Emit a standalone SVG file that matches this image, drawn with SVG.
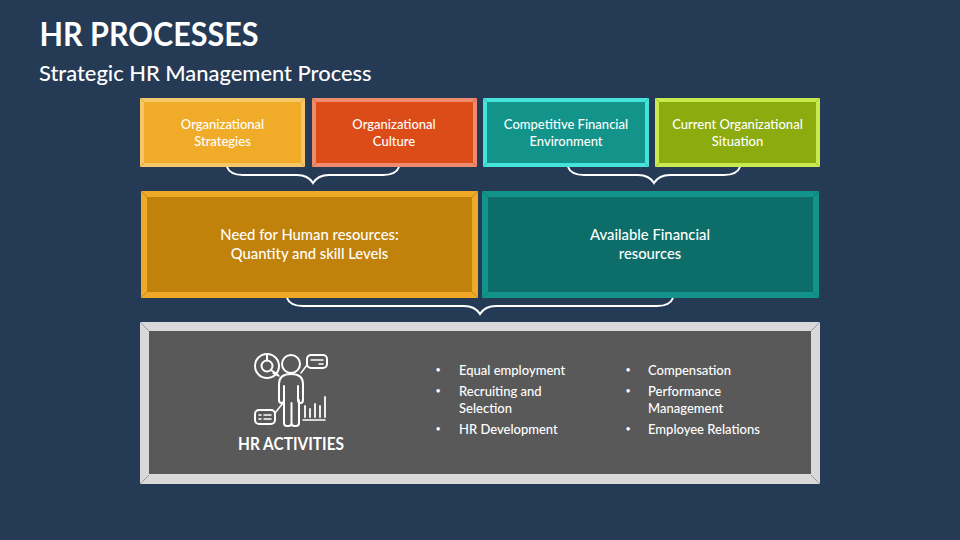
<svg xmlns="http://www.w3.org/2000/svg" width="960" height="540" viewBox="0 0 960 540">
<defs><style>
text{font-family:Lato,"Liberation Sans",sans-serif;fill:#fff;text-anchor:middle}
.t{font-size:13px;font-weight:500}
.m{font-size:14.800px;font-weight:500}
.l{font-size:13px;text-anchor:start;font-weight:500}
.b{font-size:9px;text-anchor:middle}
.br{fill:none;stroke:#fff;stroke-width:2}
.ic{fill:none;stroke:#fff;stroke-width:2;stroke-linecap:round;stroke-linejoin:round}
.d{stroke-width:.8;stroke-opacity:.6}
</style></defs>
<rect width="960" height="540" fill="#253b55"/>
<text x="39.500" y="46" textLength="219" lengthAdjust="spacingAndGlyphs" style="font-size:32px;font-weight:700;text-anchor:start">HR PROCESSES</text>
<text x="39" y="81" style="font-size:21.900px;font-weight:500;text-anchor:start">Strategic HR Management Process</text>
<g id="node-organizational-strategies">
<rect x="140" y="98" width="165" height="69" fill="#f5c768"/>
<rect x="144" y="102" width="157" height="61" fill="#f0ac29"/>
<path class="d" stroke="#a8802f" d="M140 98l4 4M305 98l-4 4M140 167l4-4M305 167l-4-4"/>
<text class="t" x="222.500" y="129">Organizational</text><text class="t" x="222.500" y="146">Strategies</text>
</g>
<g id="node-organizational-culture">
<rect x="312" y="98" width="165" height="69" fill="#ef8b6c"/>
<rect x="316" y="102" width="157" height="61" fill="#dc4c19"/>
<path class="d" stroke="#a04a2c" d="M312 98l4 4M477 98l-4 4M312 167l4-4M477 167l-4-4"/>
<text class="t" x="394" y="129">Organizational</text><text class="t" x="394" y="146">Culture</text>
</g>
<g id="node-competitive-financial-environment">
<rect x="483" y="98" width="166" height="69" fill="#45e3d9"/>
<rect x="487" y="102" width="158" height="61" fill="#12948b"/>
<path class="d" stroke="#1d8f88" d="M483 98l4 4M649 98l-4 4M483 167l4-4M649 167l-4-4"/>
<text class="t" x="566" y="129">Competitive Financial</text><text class="t" x="566" y="146">Environment</text>
</g>
<g id="node-current-organizational-situation">
<rect x="655" y="98" width="165" height="69" fill="#c9ea4e"/>
<rect x="659" y="102" width="157" height="61" fill="#8bab0e"/>
<path class="d" stroke="#7d9620" d="M655 98l4 4M820 98l-4 4M655 167l4-4M820 167l-4-4"/>
<text class="t" x="737.500" y="129">Current Organizational</text><text class="t" x="737.500" y="146">Situation</text>
</g>
<g id="node-need-for-human-resources">
<rect x="141" y="191" width="337" height="107" fill="#efa926"/>
<rect x="147" y="197" width="325" height="95" fill="#c1820b"/>
<path class="d" stroke="#8d6413" d="M141 191l6 6M478 191l-6 6M141 298l6-6M478 298l-6-6"/>
<text class="m" x="309.500" y="240">Need for Human resources:</text><text class="m" x="309.500" y="259">Quantity and skill Levels</text>
</g>
<g id="node-available-financial-resources">
<rect x="482" y="191" width="337" height="107" fill="#12948b"/>
<rect x="488" y="197" width="325" height="95" fill="#0d6e69"/>
<path class="d" stroke="#0b5d59" d="M482 191l6 6M819 191l-6 6M482 298l6-6M819 298l-6-6"/>
<text class="m" x="650" y="240">Available Financial</text><text class="m" x="650" y="259">resources</text>
</g>
<g id="node-hr-activities">
<rect x="140" y="322" width="680" height="162" fill="#d9d9d9"/>
<rect x="149" y="331" width="662" height="143" fill="#595959"/>
<path class="d" stroke="#4b5b70" d="M140 322l9 9M820 322l-9 9M140 484l9-9M820 484l-9-9"/>
<g class="ic">
<circle cx="291" cy="364" r="9"/>
<path d="M279 400V384q0-10 12-10t12 10V400q0 3-2.500 3t-2.500-3V386M279 400q0 3 2.500 3t2.500-3V386M284 400v23q0 3 3 3h1.500q3 0 3-3V403M291.500 423q0 3 3 3h1.500q3 0 3-3V400"/>
<path d="M279 376l-6-3M307 365l-6 8M275 413l8-10" stroke-width="1.500"/>
<circle cx="267" cy="366" r="12"/><circle cx="267" cy="366" r="5.500"/>
<path d="M267 354v6.500M271 370l7 5"/>
<rect x="307" y="355" width="20" height="13" rx="4"/>
<path d="M311 360h12M319 364h4" stroke-width="1.500"/>
<rect x="255" y="410" width="20" height="14" rx="4"/>
<path d="M259 415h2M264 415h7M259 419h2M264 419h7" stroke-width="1.500"/>
<path d="M305 417v-11M310 417v-8M315 417v-13M320 417v-11M325 417v-20" stroke-width="1.800"/>
<path d="M303 420h22" stroke-width="1.500"/>
</g>
<text x="291" y="450" textLength="106" lengthAdjust="spacingAndGlyphs" style="font-size:16.500px;font-weight:700">HR ACTIVITIES</text>
<text class="b" x="438" y="373">•</text><text class="l" x="459" y="375">Equal employment</text>
<text class="b" x="438" y="394">•</text><text class="l" x="459" y="396">Recruiting and</text><text class="l" x="459" y="413">Selection</text>
<text class="b" x="438" y="432">•</text><text class="l" x="459" y="434">HR Development</text>
<text class="b" x="628" y="373">•</text><text class="l" x="648" y="375">Compensation</text>
<text class="b" x="628" y="394">•</text><text class="l" x="648" y="396">Performance</text><text class="l" x="648" y="413">Management</text>
<text class="b" x="628" y="432">•</text><text class="l" x="648" y="434">Employee Relations</text>
</g>
<g id="connectors">
<path class="br" d="M227 167q3 8 16 8h54q11 0 16 8q5-8 16-8h54q13 0 16-8"/>
<path class="br" d="M568 167q3 8 16 8h54q11 0 16 8q5-8 16-8h54q13 0 16-8"/>
<path class="br" d="M287 298q3 8 16 8h161q11 0 16 8q5-8 16-8h161q13 0 16-8"/>
</g>
</svg>
